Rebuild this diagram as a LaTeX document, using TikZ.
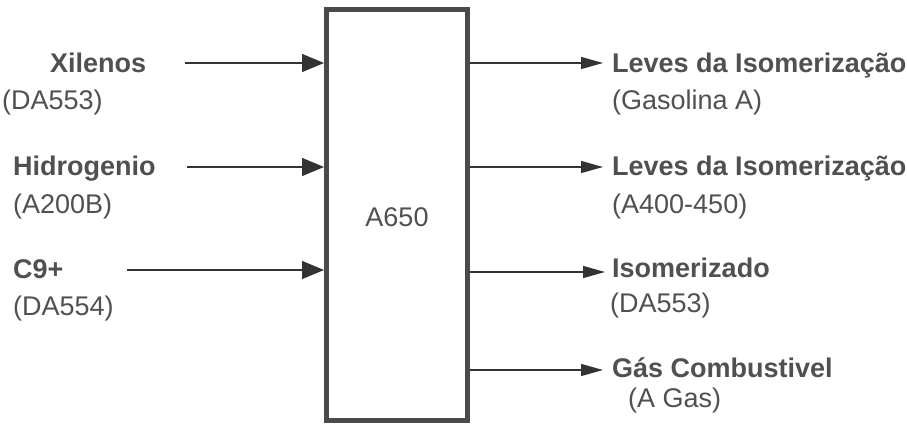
\documentclass[tikz,border=0pt]{standalone}
\usepackage{fontspec}
\setmainfont{Liberation Sans}
\usetikzlibrary{arrows.meta}
\definecolor{ink}{HTML}{505050}
\definecolor{line}{HTML}{333333}
\definecolor{frame}{HTML}{4A4A4A}
\begin{document}
\begin{tikzpicture}[x=1pt,y=-1pt,
  lbl/.style={anchor=base west,inner sep=0pt,text=ink,font=\fontsize{27}{31}\selectfont\bfseries},
  sub/.style={anchor=base west,inner sep=0pt,text=ink,font=\fontsize{27}{31}\selectfont},
  flowin/.style={draw=line,line width=1.4pt,-{Triangle[length=22pt,width=18pt]}},
  flowout/.style={draw=line,line width=1.4pt,-{Triangle[length=22pt,width=12pt]}},
  unit/.style={draw=frame,line width=5pt,fill=white,minimum width=141pt,minimum height=410pt,inner sep=0pt}]
\useasboundingbox (0,0) rectangle (907,425);
\node[unit] (box) at (397,215) {};
\node[text=ink,font=\fontsize{27}{31}\selectfont,inner sep=0pt] (boxlbl) at (397,217) {A650};
% inputs
\node[lbl] (xil) at (50,73) {Xilenos};
\node[sub] (xils) at (2,110) {(DA553)};
\node[lbl] (hid) at (13,175) {Hidrogenio};
\node[sub] (hids) at (13,213) {(A200B)};
\node[lbl] (c9) at (13,278) {C9+};
\node[sub] (c9s) at (13,315) {(DA554)};
\coordinate (i1) at (185,63);
\coordinate (i2) at (187,167);
\coordinate (i3) at (127,270);
\draw[flowin] (i1) -- (i1 -| box.west);
\draw[flowin] (i2) -- (i2 -| box.west);
\draw[flowin] (i3) -- (i3 -| box.west);
% outputs
\node[lbl] (o1) at (612,73) {Leves da Isomerização};
\node[sub] (o1s) at (612,110) {(Gasolina A)};
\node[lbl] (o2) at (612,175) {Leves da Isomerização};
\node[sub] (o2s) at (612,213) {(A400-450)};
\node[lbl] (o3) at (612,277) {Isomerizado};
\node[sub] (o3s) at (610,312) {(DA553)};
\node[lbl] (o4) at (612,377) {Gás Combustivel};
\node[sub] (o4s) at (628,407) {(A Gas)};
\coordinate (e1) at (603,63);
\coordinate (e2) at (603,167);
\coordinate (e3) at (605,272);
\coordinate (e4) at (603,370);
\draw[flowout] (e1 -| box.east) -- (e1);
\draw[flowout] (e2 -| box.east) -- (e2);
\draw[flowout] (e3 -| box.east) -- (e3);
\draw[flowout] (e4 -| box.east) -- (e4);
\end{tikzpicture}
\end{document}
